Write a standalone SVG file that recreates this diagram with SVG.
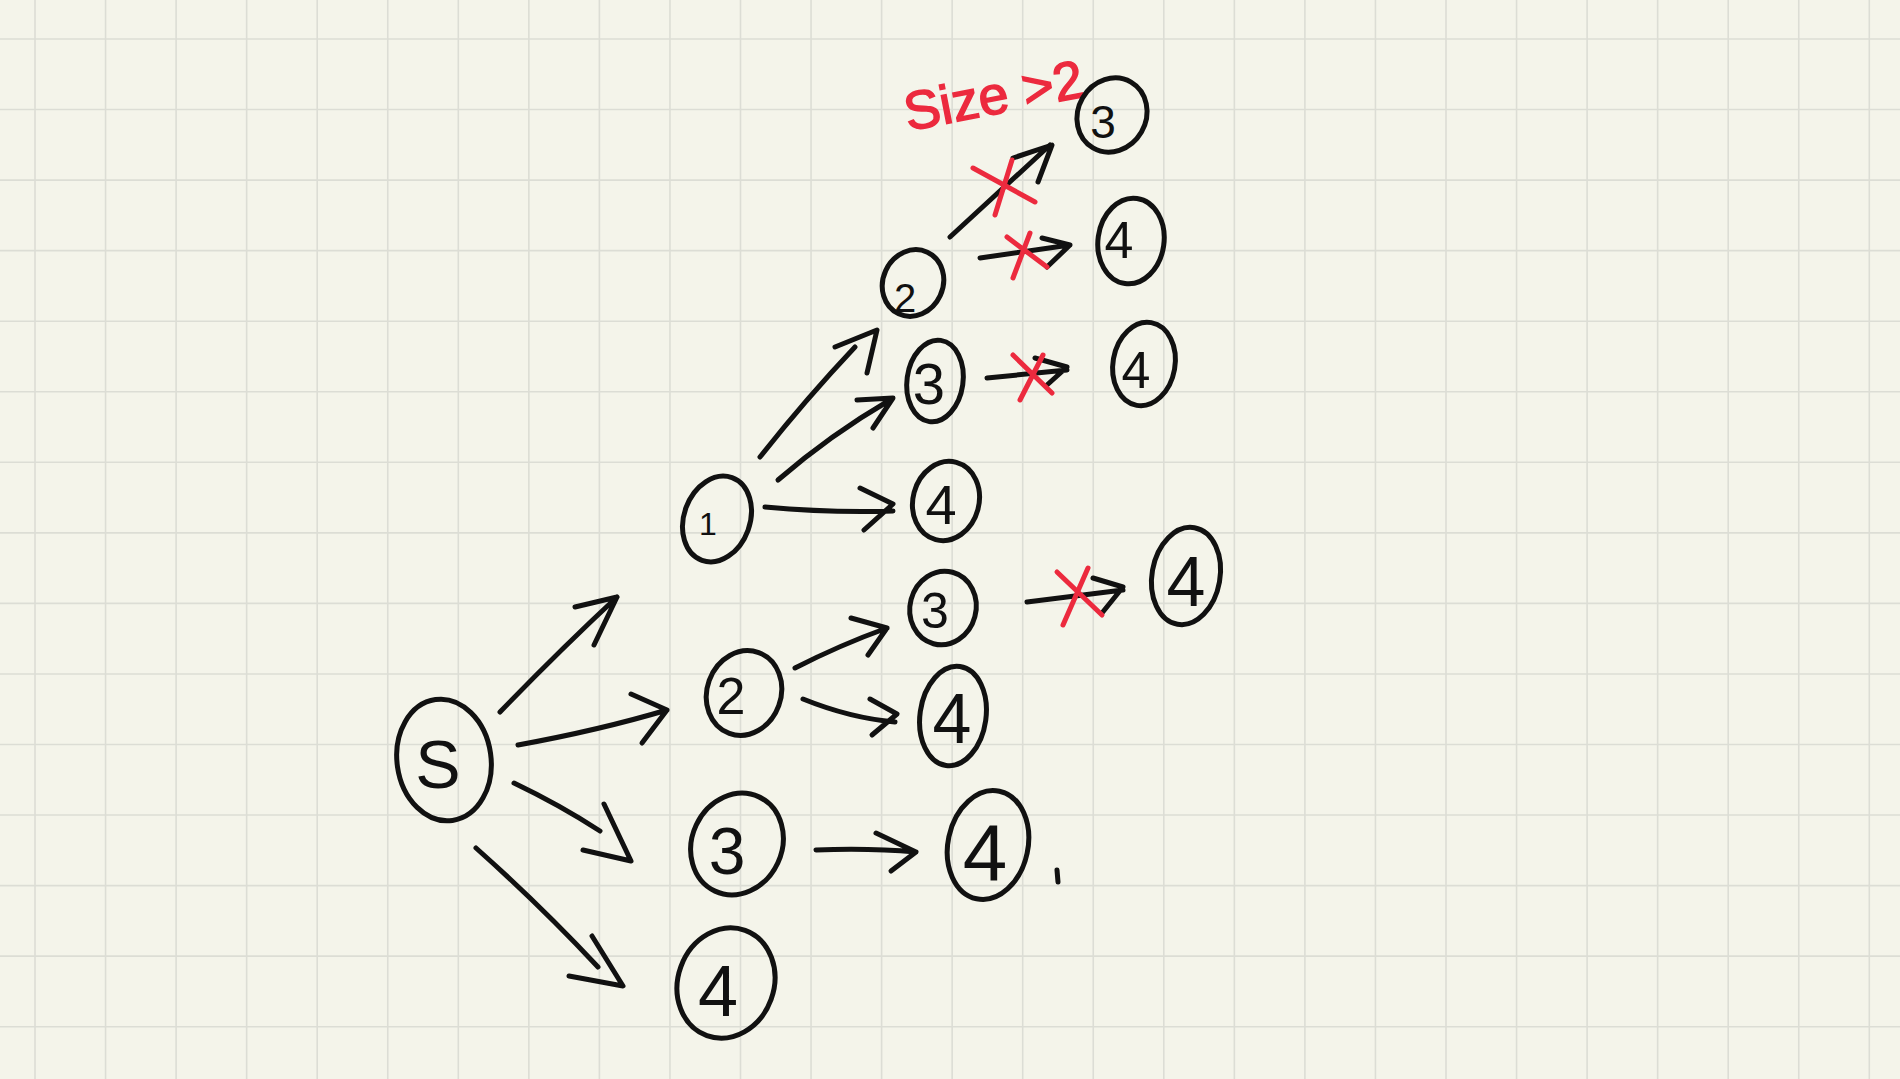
<svg xmlns="http://www.w3.org/2000/svg" width="1900" height="1079" viewBox="0 0 1900 1079">
<defs>
<style>
.bg{fill:#f4f4ea}
.grid{stroke:#dcddd5;stroke-width:1.6;fill:none}
.ink{stroke:#111;stroke-width:5;fill:none;stroke-linecap:round;stroke-linejoin:round}
.red{stroke:#ec2a3e;stroke-width:5;fill:none;stroke-linecap:round;stroke-linejoin:round}
.lbl{font-family:"Liberation Sans",Arial,sans-serif;fill:#111;text-anchor:middle}
.note{font-family:"Liberation Sans",Arial,sans-serif;fill:#ec2a3e;stroke:#ec2a3e;stroke-width:1.5;font-size:54px}
</style>
</defs>
<rect class="bg" x="0" y="0" width="1900" height="1079"/>
<path class="grid" d="M35,0V1079M105.55,0V1079M176.1,0V1079M246.65,0V1079M317.2,0V1079M387.75,0V1079M458.3,0V1079M528.85,0V1079M599.4,0V1079M669.95,0V1079M740.5,0V1079M811.05,0V1079M881.6,0V1079M952.15,0V1079M1022.7,0V1079M1093.25,0V1079M1163.8,0V1079M1234.35,0V1079M1304.9,0V1079M1375.45,0V1079M1446,0V1079M1516.55,0V1079M1587.1,0V1079M1657.65,0V1079M1728.2,0V1079M1798.75,0V1079M1869.3,0V1079
M0,39H1900M0,109.55H1900M0,180.1H1900M0,250.65H1900M0,321.2H1900M0,391.75H1900M0,462.3H1900M0,532.85H1900M0,603.4H1900M0,673.95H1900M0,744.5H1900M0,815.05H1900M0,885.6H1900M0,956.15H1900M0,1026.7H1900"/>

<g id="connectors">
<path class="ink" d="M500,712 Q560,650 617,597 M575,607 L617,597 L594,645"/>
<path class="ink" d="M518,745 Q600,730 667,710 M631,694 L667,710 L642,743"/>
<path class="ink" d="M514,783 Q560,805 600,831 M604,804 L631,861 L583,850"/>
<path class="ink" d="M476,848 Q540,905 598,967 M592,936 L623,986 L569,976"/>
<path class="ink" d="M760,457 Q805,400 855,347 M835,347 L877,330 L867,373"/>
<path class="ink" d="M778,480 Q830,435 890,400 M857,400 L893,398 L873,428"/>
<path class="ink" d="M765,507 Q830,513 893,511 M860,488 L893,504 L864,530"/>
<path class="ink" d="M795,668 Q840,645 887,628 M851,618 L887,628 L868,655"/>
<path class="ink" d="M803,699 Q850,718 895,722 M870,699 L897,714 L872,735"/>
<path class="ink" d="M816,850 Q870,848 916,852 M876,833 L916,852 L891,871"/>
<path class="ink" d="M950,237 L1050,145 M1013,158 L1052,145 L1038,182"/>
<path class="ink" d="M980,258 L1070,245 M1042,238 L1070,245 L1047,267"/>
<path class="ink" d="M987,378 L1067,370 M1035,358 L1067,367 L1047,385"/>
<path class="ink" d="M1027,602 L1123,590 M1093,578 L1123,587 L1102,613"/>
</g>

<g id="crosses">
<path class="red" d="M973,168 L1035,202 M1012,160 L995,215"/>
<path class="red" d="M1007,237 L1047,267 M1030,233 L1013,278"/>
<path class="red" d="M1013,355 L1052,393 M1043,355 L1020,400"/>
<path class="red" d="M1057,572 L1102,615 M1088,568 L1063,625"/>
</g>

<text class="note" x="908" y="131" transform="rotate(-11 908 131)">Size &gt;2</text>

<g id="node-S"><ellipse class="ink" cx="444" cy="760" rx="47" ry="61" transform="rotate(-8 444 760)"/><text class="lbl" x="438" y="788" font-size="68">S</text></g>
<g id="node-1"><ellipse class="ink" cx="717" cy="519" rx="33" ry="44" transform="rotate(20 717 519)"/><text class="lbl" x="708" y="535" font-size="32">1</text></g>
<g id="node-2"><ellipse class="ink" cx="744" cy="693" rx="37" ry="43" transform="rotate(20 744 693)"/><text class="lbl" x="731" y="714" font-size="52">2</text></g>
<g id="node-3"><ellipse class="ink" cx="737" cy="844" rx="45" ry="52" transform="rotate(25 737 844)"/><text class="lbl" x="727" y="874" font-size="66">3</text></g>
<g id="node-4"><ellipse class="ink" cx="726" cy="983" rx="48" ry="56" transform="rotate(20 726 983)"/><text class="lbl" x="718" y="1016" font-size="72">4</text></g>
<g id="node-1-2"><ellipse class="ink" cx="913" cy="283" rx="30" ry="34" transform="rotate(25 913 283)"/><text class="lbl" x="905" y="312" font-size="40">2</text></g>
<g id="node-1-3"><ellipse class="ink" cx="935" cy="381" rx="28" ry="41" transform="rotate(8 935 381)"/><text class="lbl" x="929" y="404" font-size="58">3</text></g>
<g id="node-1-4"><ellipse class="ink" cx="946" cy="501" rx="33" ry="40" transform="rotate(15 946 501)"/><text class="lbl" x="941" y="524" font-size="56">4</text></g>
<g id="node-1-2-3"><ellipse class="ink" cx="1112" cy="115" rx="34" ry="38" transform="rotate(30 1112 115)"/><text class="lbl" x="1103" y="138" font-size="46">3</text></g>
<g id="node-1-2-4"><ellipse class="ink" cx="1131" cy="241" rx="33" ry="43" transform="rotate(8 1131 241)"/><text class="lbl" x="1119" y="258" font-size="52">4</text></g>
<g id="node-1-3-4"><ellipse class="ink" cx="1144" cy="364" rx="31" ry="42" transform="rotate(10 1144 364)"/><text class="lbl" x="1136" y="388" font-size="52">4</text></g>
<g id="node-2-3"><ellipse class="ink" cx="943" cy="608" rx="33" ry="37" transform="rotate(15 943 608)"/><text class="lbl" x="935" y="628" font-size="50">3</text></g>
<g id="node-2-4"><ellipse class="ink" cx="953" cy="716" rx="33" ry="50" transform="rotate(8 953 716)"/><text class="lbl" x="952" y="743" font-size="70">4</text></g>
<g id="node-2-3-4"><ellipse class="ink" cx="1186" cy="576" rx="34" ry="49" transform="rotate(10 1186 576)"/><text class="lbl" x="1186" y="606" font-size="70">4</text></g>
<g id="node-3-4"><ellipse class="ink" cx="988" cy="845" rx="40" ry="55" transform="rotate(12 988 845)"/><text class="lbl" x="985" y="880" font-size="80">4</text></g>

<path class="ink" d="M1057,870 L1058,882"/>
</svg>
